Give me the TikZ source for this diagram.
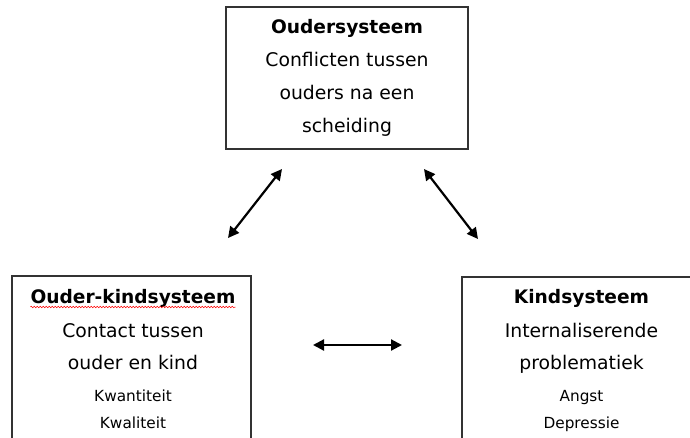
\documentclass[tikz,border=0pt]{standalone}
\usepackage{fontspec}
\setmainfont{DejaVu Sans}
\usetikzlibrary{arrows.meta,decorations.pathmorphing}
\begin{document}
\begin{tikzpicture}[x=1pt,y=-1pt,
  box/.style={draw=black!80, line width=1.2pt, inner sep=0pt},
  ttl/.style={anchor=base, inner sep=0pt, font=\fontsize{18.6}{20}\selectfont\bfseries},
  txt/.style={anchor=base, inner sep=0pt, font=\fontsize{18.8}{20}\selectfont},
  sml/.style={anchor=base, inner sep=0pt, font=\fontsize{15.3}{17}\selectfont},
  dbl/.style={{Triangle[length=11pt,width=11pt]}-{Triangle[length=11pt,width=11pt]}, line width=2.2pt}]
\useasboundingbox (0,0) rectangle (690,437);
\clip (0,0) rectangle (690,437);
% boxes
\draw[box] (226,7) rectangle (468,149);
\draw[box] (12,276) rectangle (251,460);
\draw[box] (462,277) rectangle (702,460);
% top box text
\node[ttl] (t1) at (347,33) {Oudersysteem};
\node[txt] (t2) at (347,66) {Conflicten tussen};
\node[txt] (t3) at (347,99) {ouders na een};
\node[txt] (t4) at (347,132) {scheiding};
% left box text
\node[ttl] (l1) at (133,303) {Ouder-kindsysteem};
\node[txt] (l2) at (133,337) {Contact tussen};
\node[txt] (l3) at (133,369) {ouder en kind};
\node[sml] (l4) at (133,401) {Kwantiteit};
\node[sml] (l5) at (133,428) {Kwaliteit};
\draw[red, line width=0.5pt, decorate, decoration={snake, amplitude=0.8pt, segment length=3pt}]
  ([yshift=-4pt]l1.base west) -- ([yshift=-4pt]l1.base east);
% right box text
\node[ttl] (r1) at (581.5,303) {Kindsysteem};
\node[txt] (r2) at (581.5,337) {Internaliserende};
\node[txt] (r3) at (581.5,369) {problematiek};
\node[sml] (r4) at (581.5,401) {Angst};
\node[sml] (r5) at (581.5,428) {Depressie};
% arrows
\coordinate (a1) at (228,238);
\coordinate (a2) at (282,169);
\coordinate (b1) at (424,169);
\coordinate (b2) at (478,239);
\coordinate (c1) at (313,345);
\coordinate (c2) at (402,345);
\draw[dbl] (a1) -- (a2);
\draw[dbl] (b1) -- (b2);
\draw[dbl] (c1) -- (c2);
\end{tikzpicture}
\end{document}
